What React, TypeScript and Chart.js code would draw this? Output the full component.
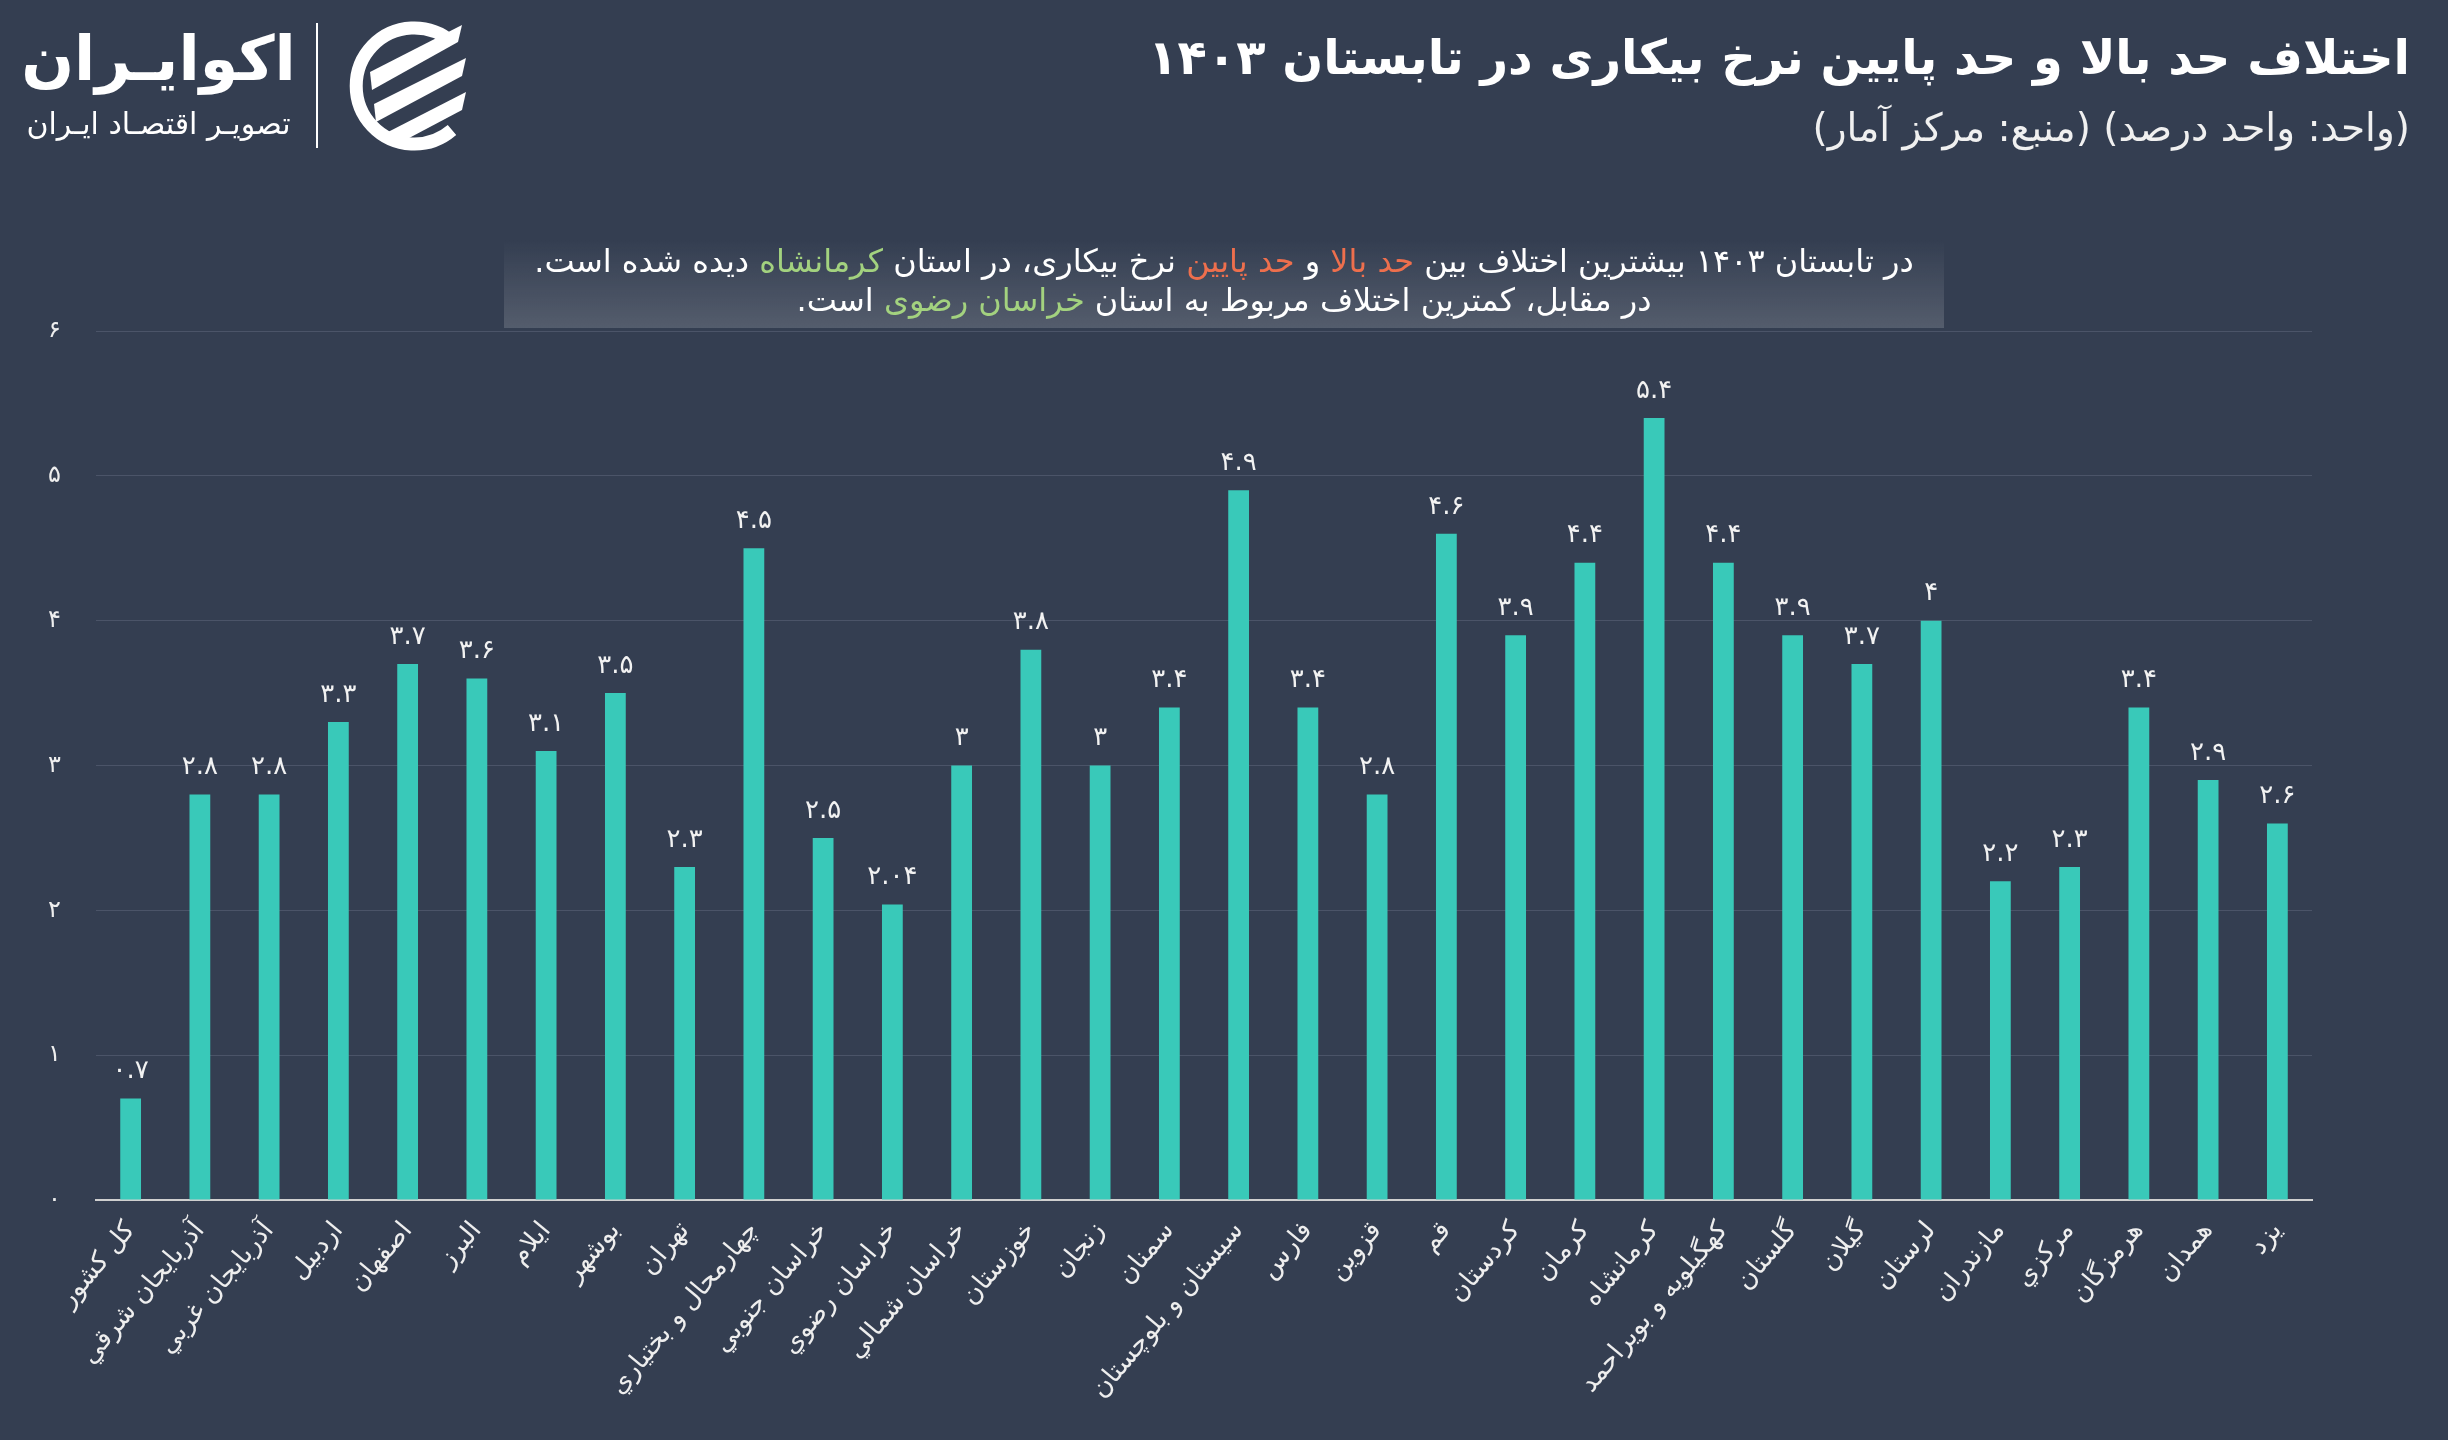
import React, { useEffect, useRef } from "react";
import { Chart, registerables } from "chart.js";

Chart.register(...registerables);

const provinces = [
  "کل کشور",
  "آذربايجان شرقي",
  "آذربايجان غربي",
  "اردبيل",
  "اصفهان",
  "البرز",
  "ايلام",
  "بوشهر",
  "تهران",
  "چهارمحال و بختياري",
  "خراسان جنوبي",
  "خراسان رضوي",
  "خراسان شمالي",
  "خوزستان",
  "زنجان",
  "سمنان",
  "سيستان و بلوچستان",
  "فارس",
  "قزوين",
  "قم",
  "كردستان",
  "كرمان",
  "كرمانشاه",
  "كهگيلويه و بويراحمد",
  "گلستان",
  "گيلان",
  "لرستان",
  "مازندران",
  "مركزي",
  "هرمزگان",
  "همدان",
  "يزد",
];

const gapValues = [
  0.7, 2.8, 2.8, 3.3, 3.7, 3.6, 3.1, 3.5, 2.3, 4.5, 2.5, 2.04, 3, 3.8, 3, 3.4,
  4.9, 3.4, 2.8, 4.6, 3.9, 4.4, 5.4, 4.4, 3.9, 3.7, 4, 2.2, 2.3, 3.4, 2.9, 2.6,
];

const yTickValues = [0, 1, 2, 3, 4, 5, 6];

const titleText = "اختلاف حد بالا و حد پایین نرخ بیکاری در تابستان ۱۴۰۳";
const subtitleText = "(واحد: واحد درصد) (منبع: مرکز آمار)";

const FA_DIGITS = "۰۱۲۳۴۵۶۷۸۹";
const toFa = (s: string) => s.replace(/[0-9]/g, (d) => FA_DIGITS[Number(d)]);

const FONT = '"DejaVu Sans", "Noto Sans", sans-serif';
const BG = "#343e51";
const BAR = "#39c9b9";
const ORANGE = "#ee6f4d";
const GREEN = "#a3d27f";

const valueLabelPlugin = {
  id: "valueLabels",
  afterDatasetsDraw(chart: any) {
    const ctx = chart.ctx;
    const meta = chart.getDatasetMeta(0);
    ctx.save();
    ctx.font = `26px ${FONT}`;
    ctx.fillStyle = "#f2f2f2";
    ctx.textAlign = "center";
    ctx.textBaseline = "bottom";
    meta.data.forEach((bar: any, i: number) => {
      ctx.fillText(toFa(String(gapValues[i])), bar.x, bar.y - 14);
    });
    ctx.restore();
  },
};

function Logo() {
  return (
    <div style={{ position: "absolute", left: 0, top: 0, width: 500, height: 170 }}>
      <div
        style={{
          position: "absolute",
          left: 16,
          top: 14,
          width: 285,
          textAlign: "center",
          direction: "rtl",
          color: "#ffffff",
          fontFamily: FONT,
          fontWeight: "bold",
          fontSize: 62,
          lineHeight: "90px",
          whiteSpace: "nowrap",
        }}
      >
        اکوایـران
      </div>
      <div
        style={{
          position: "absolute",
          left: 16,
          top: 104,
          width: 285,
          textAlign: "center",
          direction: "rtl",
          color: "#ffffff",
          fontFamily: FONT,
          fontSize: 30,
          lineHeight: "40px",
          whiteSpace: "nowrap",
        }}
      >
        تصویـر اقتصـاد ایـران
      </div>
      <div
        style={{
          position: "absolute",
          left: 316,
          top: 23,
          width: 2,
          height: 125,
          background: "#ffffff",
        }}
      />
      <svg
        style={{ position: "absolute", left: 340, top: 20 }}
        width={135}
        height={132}
        viewBox="0 0 135 132"
      >
        <path
          d="M 112 22 A 58 58 0 1 0 112 110"
          fill="none"
          stroke="#ffffff"
          strokeWidth={13}
        />
        <polygon points="30,52 122,5 118,22 32,70" fill="#ffffff" />
        <polygon points="34,84 126,38 122,56 36,102" fill="#ffffff" />
        <polygon points="48,112 126,72 122,90 54,126" fill="#ffffff" />
      </svg>
    </div>
  );
}

export default function App() {
  const canvasRef = useRef<HTMLCanvasElement | null>(null);

  useEffect(() => {
    const canvas = canvasRef.current;
    if (!canvas) return;
    const chart = new Chart(canvas, {
      type: "bar",
      data: {
        labels: provinces,
        datasets: [
          {
            data: gapValues,
            backgroundColor: BAR,
            borderWidth: 0,
            barPercentage: 0.3,
            categoryPercentage: 1,
          },
        ],
      },
      options: {
        responsive: false,
        animation: false,
        devicePixelRatio: 1,
        layout: { padding: { left: 0, right: 136, top: 331, bottom: 0 } },
        plugins: {
          legend: { display: false },
          tooltip: { enabled: false },
          title: { display: false },
        },
        scales: {
          x: {
            grid: { display: false, drawTicks: false },
            border: { display: true, color: "#cfcfcf", width: 2 },
            ticks: {
              autoSkip: false,
              maxRotation: 50,
              minRotation: 50,
              padding: 16,
              color: "#eeeeee",
              font: { family: FONT, size: 26 },
            },
            afterFit: (scale: any) => {
              scale.height = 240;
            },
          },
          y: {
            min: 0,
            max: 6,
            afterBuildTicks: (scale: any) => {
              scale.ticks = yTickValues.map((v) => ({ value: v }));
            },
            grid: { color: "#4b5468", lineWidth: 1, drawTicks: false },
            border: { display: false },
            ticks: {
              padding: 35,
              color: "#eeeeee",
              font: { family: FONT, size: 24 },
              callback: (v: any) => toFa(String(v)),
            },
            afterFit: (scale: any) => {
              scale.width = 96;
            },
          },
        },
      },
      plugins: [valueLabelPlugin],
    });
    return () => chart.destroy();
  }, []);

  return (
    <div
      style={{
        position: "absolute",
        left: 0,
        top: 0,
        width: 2448,
        height: 1440,
        background: BG,
        overflow: "hidden",
      }}
    >
      <canvas
        ref={canvasRef}
        width={2448}
        height={1440}
        style={{ position: "absolute", left: 0, top: 0, width: 2448, height: 1440 }}
      />
      <Logo />
      <div
        style={{
          position: "absolute",
          right: 38,
          top: 20,
          direction: "rtl",
          color: "#ffffff",
          fontFamily: FONT,
          fontWeight: "bold",
          fontSize: 48,
          lineHeight: "74px",
          whiteSpace: "nowrap",
        }}
      >
        {toFa(titleText)}
      </div>
      <div
        style={{
          position: "absolute",
          right: 38,
          top: 102,
          direction: "rtl",
          color: "#f0f0f0",
          fontFamily: FONT,
          fontSize: 39,
          lineHeight: "52px",
          whiteSpace: "nowrap",
        }}
      >
        {subtitleText}
      </div>
      <div
        style={{
          position: "absolute",
          left: 504,
          top: 239,
          width: 1440,
          height: 89,
          background: "linear-gradient(to bottom, rgba(255,255,255,0.0), rgba(255,255,255,0.16))",
          direction: "rtl",
          textAlign: "center",
          color: "#ffffff",
          fontFamily: FONT,
          fontSize: 32,
          lineHeight: "39px",
          paddingTop: 3,
          boxSizing: "border-box",
          whiteSpace: "nowrap",
        }}
      >
        <div>
          در تابستان ۱۴۰۳ بیشترین اختلاف بین <span style={{ color: ORANGE }}>حد بالا</span> و{" "}
          <span style={{ color: ORANGE }}>حد پایین</span> نرخ بیکاری، در استان{" "}
          <span style={{ color: GREEN }}>کرمانشاه</span> دیده شده است.
        </div>
        <div>
          در مقابل، کمترین اختلاف مربوط به استان <span style={{ color: GREEN }}>خراسان رضوی</span> است.
        </div>
      </div>
    </div>
  );
}
